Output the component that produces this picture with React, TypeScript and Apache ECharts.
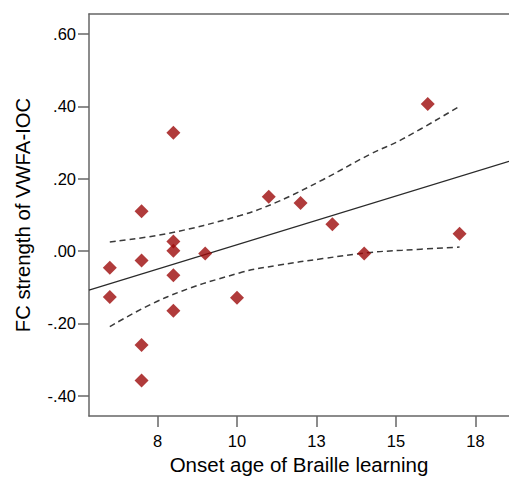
import React, { useEffect, useRef } from "react";
import * as echarts from "echarts";

// Scatter data: onset age of Braille learning vs FC strength of VWFA-IOC
const onsetAge = [6, 6, 7, 7, 7, 7, 8, 8, 8, 8, 8, 9, 10, 11, 12, 13, 14, 16, 17];
const fcStrength = [-0.046, -0.127, 0.11, -0.026, -0.26, -0.358, 0.327, 0.026, 0.001, -0.067, -0.165, -0.007, -0.129, 0.15, 0.133, 0.074, -0.007, 0.406, 0.048];

// Fit line
const fitX = [5.346, 18.555];
const fitY = [-0.108, 0.248];

// 95% confidence band
const ciX = [6, 7.8, 10.1, 11.25, 12.7, 14.2, 15.2, 17];
const ciUpper = [0.025, 0.048, 0.098, 0.135, 0.197, 0.268, 0.309, 0.4];
const ciLower = [-0.209, -0.127, -0.06, -0.04, -0.021, -0.004, 0.002, 0.011];

// Tick values
const xTicks = [7.5, 10, 12.5, 15, 17.5];
const yTicks = [-0.4, -0.2, 0, 0.2, 0.4, 0.6];

const X_MIN = 5.346;
const X_MAX = 18.555;
const Y_MIN = -0.456;
const Y_MAX = 0.655;

const FONT = 'Arial, "Liberation Sans", sans-serif';
const AXIS_COLOR = "#666666";

export default function App() {
  const ref = useRef<HTMLDivElement>(null);

  useEffect(() => {
    if (!ref.current) return;
    const chart = echarts.init(ref.current, undefined, { renderer: "svg" });

    const points = onsetAge.map((x, i) => [x, fcStrength[i]]);

    const yFmt = (v: number) => {
      const s = v.toFixed(2);
      return s.replace(/^(-?)0\./, "$1.");
    };

    chart.setOption({
      animation: false,
      backgroundColor: "#ffffff",
      grid: { left: 89, right: 0, top: 14, bottom: 62 },
      xAxis: [
        {
          type: "value",
          min: X_MIN,
          max: X_MAX,
          position: "bottom",
          name: "Onset age of Braille learning",
          nameLocation: "middle",
          nameGap: 38,
          nameTextStyle: { fontFamily: FONT, fontSize: 20.5, color: "#000" },
          axisLine: { show: true, onZero: false, lineStyle: { color: AXIS_COLOR, width: 1.5 } },
          axisTick: {
            show: true,
            inside: false,
            length: 11,
            customValues: xTicks,
            lineStyle: { color: AXIS_COLOR, width: 1.5 },
          },
          axisLabel: {
            customValues: xTicks,
            formatter: (v: number) => String(Math.round(v)),
            fontFamily: FONT,
            fontSize: 16.5,
            color: "#000",
            margin: 16,
          },
          splitLine: { show: false },
        },
        {
          type: "value",
          min: X_MIN,
          max: X_MAX,
          position: "top",
          axisLine: { show: true, onZero: false, lineStyle: { color: AXIS_COLOR, width: 1.5 } },
          axisTick: { show: false },
          axisLabel: { show: false },
          splitLine: { show: false },
        },
      ],
      yAxis: {
        type: "value",
        min: Y_MIN,
        max: Y_MAX,
        name: "FC strength of VWFA-IOC",
        nameLocation: "middle",
        nameGap: 56,
        nameTextStyle: { fontFamily: FONT, fontSize: 20.3, color: "#000" },
        axisLine: { show: true, onZero: false, lineStyle: { color: AXIS_COLOR, width: 1.5 } },
        axisTick: {
          show: true,
          inside: false,
          length: 11,
          customValues: yTicks,
          lineStyle: { color: AXIS_COLOR, width: 1.5 },
        },
        axisLabel: {
          customValues: yTicks,
          formatter: yFmt,
          fontFamily: FONT,
          fontSize: 16.5,
          color: "#000",
          margin: 13,
        },
        splitLine: { show: false },
      },
      series: [
        {
          type: "line",
          xAxisIndex: 0,
          data: fitX.map((x, i) => [x, fitY[i]]),
          symbol: "none",
          lineStyle: { color: "#2a2a2a", width: 1.2 },
          silent: true,
          z: 2,
        },
        {
          type: "line",
          xAxisIndex: 0,
          data: ciX.map((x, i) => [x, ciUpper[i]]),
          symbol: "none",
          smooth: 0.4,
          lineStyle: { color: "#3a3a3a", width: 1.5, type: [6, 4] },
          silent: true,
          z: 2,
        },
        {
          type: "line",
          xAxisIndex: 0,
          data: ciX.map((x, i) => [x, ciLower[i]]),
          symbol: "none",
          smooth: 0.4,
          lineStyle: { color: "#3a3a3a", width: 1.5, type: [6, 4] },
          silent: true,
          z: 2,
        },
        {
          type: "scatter",
          xAxisIndex: 0,
          data: points,
          symbol: "diamond",
          symbolSize: [14, 14],
          itemStyle: { color: "#9c0a0a" },
          z: 3,
        },
      ],
    });

    return () => chart.dispose();
  }, []);

  return (
    <div
      ref={ref}
      style={{ position: "fixed", left: 0, top: 0, width: 509, height: 480 }}
    />
  );
}
